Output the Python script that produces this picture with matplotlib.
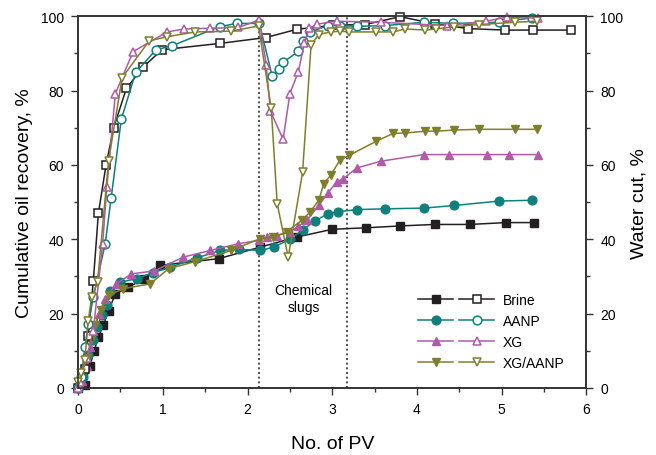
import matplotlib
matplotlib.use('Agg')
import matplotlib.pyplot as plt
from matplotlib.legend_handler import HandlerTuple
from matplotlib.lines import Line2D

plt.rcParams['font.family'] = ['Liberation Sans', 'DejaVu Sans']

# cumulative oil recovery (%) vs injected pore volumes
brine_pv = [0, 0.08, 0.14, 0.19, 0.24, 0.3, 0.36, 0.44, 0.59, 0.78, 0.97, 1.66, 2.15, 2.58, 3.0, 3.4, 3.8, 4.21, 4.62, 5.05, 5.38]
brine_rec = [0, 0.8, 6, 10, 13.7, 17, 20.8, 25.3, 27.1, 29.3, 33, 34.8, 37.9, 40.6, 42.7, 43.1, 43.6, 44, 44, 44.5, 44.5]

aanp_pv = [0, 0.06, 0.12, 0.18, 0.22, 0.28, 0.34, 0.38, 0.5, 0.69, 0.88, 1.09, 1.4, 1.68, 1.9, 2.15, 2.31, 2.5, 2.65, 2.8, 2.95, 3.07, 3.29, 3.62, 4.08, 4.44, 4.97, 5.36]
aanp_rec = [0, 3, 9, 13, 16.4, 19.5, 22.2, 26.2, 28.5, 29.4, 31, 32.5, 35, 37, 37.3, 37, 37.9, 40, 42.5, 45, 46.9, 47.4, 48, 48.2, 48.4, 49.1, 50.3, 50.5]

xg_pv = [0, 0.05, 0.1, 0.14, 0.18, 0.25, 0.32, 0.45, 0.63, 0.9, 1.24, 1.56, 1.89, 2.13, 2.23, 2.35, 2.5, 2.6, 2.7, 2.84, 2.95, 3.05, 3.13, 3.29, 3.57, 4.08, 4.38, 4.83, 5.08, 5.43]
xg_rec = [0, 2, 6, 11, 15.4, 20, 24, 28, 30.7, 31.5, 35.2, 37, 38.8, 39.7, 40.6, 41, 42, 43.5, 45.1, 49.1, 52.5, 55.4, 56.3, 59.2, 61, 62.8, 62.8, 62.8, 62.8, 62.8]

xga_pv = [0, 0.05, 0.1, 0.15, 0.2, 0.27, 0.36, 0.53, 0.85, 1.07, 1.38, 1.81, 2.15, 2.3, 2.46, 2.64, 2.74, 2.84, 2.9, 2.98, 3.09, 3.2, 3.52, 3.72, 3.86, 4.1, 4.23, 4.44, 4.73, 5.16, 5.42]
xga_rec = [0, 3, 8, 13, 17, 21, 24.9, 26.7, 28, 32.1, 34, 37, 40.2, 40.5, 42, 45.1, 47.4, 50.5, 55, 57.2, 61.3, 62.6, 66.4, 68.5, 68.6, 69.1, 69.1, 69.4, 69.6, 69.6, 69.6]

# water cut (%)
brine_wc_pv = [0, 0.08, 0.12, 0.18, 0.24, 0.33, 0.42, 0.57, 0.77, 0.99, 1.67, 2.22, 2.58, 3.01, 3.39, 3.8, 4.21, 4.6, 5.04, 5.37, 5.82]
brine_wc = [0, 5, 14, 28.8, 47, 60, 70, 80.6, 86.4, 91, 92.7, 94.3, 96.5, 97.6, 97.8, 99.9, 98, 96.7, 96.3, 96.3, 96.3]

aanp_wc_pv = [0, 0.04, 0.08, 0.12, 0.18, 0.32, 0.39, 0.51, 0.68, 0.92, 1.11, 1.67, 1.87, 2.14, 2.29, 2.37, 2.42, 2.6, 2.65, 2.74, 2.95, 3.09, 3.29, 3.62, 4.08, 4.43, 4.97, 5.36]
aanp_wc = [0, 3, 11, 17.2, 24.4, 38.8, 51, 72.3, 84.9, 91, 92.1, 97.2, 98.1, 98.1, 84, 85.8, 87.6, 90.6, 93.3, 95.8, 97.5, 97.5, 97.3, 97.5, 98.4, 98.1, 98.4, 99.6]

xg_wc_pv = [0, 0.02, 0.1, 0.18, 0.29, 0.34, 0.44, 0.65, 1.05, 1.25, 1.56, 1.89, 2.14, 2.22, 2.27, 2.42, 2.5, 2.6, 2.67, 2.73, 2.82, 3.05, 3.58, 4.35, 4.82, 5.06, 5.43]
xg_wc = [0, 1.6, 8, 15.4, 38.8, 54.1, 79.2, 90.5, 95.8, 96.6, 96.8, 97, 99, 86.9, 74.5, 66.9, 79.2, 85.1, 92.7, 96.8, 97.9, 98.7, 98.4, 97.5, 98.7, 99.8, 99.5]

xga_wc_pv = [0, 0.04, 0.08, 0.12, 0.16, 0.23, 0.36, 0.52, 0.84, 1.05, 1.38, 1.8, 2.13, 2.28, 2.35, 2.48, 2.65, 2.75, 2.84, 2.98, 3.09, 3.2, 3.52, 3.72, 3.86, 4.1, 4.23, 4.44, 4.73, 5.16, 5.42]
xga_wc = [1.5, 4, 7.4, 18.1, 24.4, 28.5, 61.1, 83.5, 93.4, 94.5, 95.8, 96, 97.4, 75.2, 49.6, 35.2, 58.1, 92.3, 95.1, 95.8, 96, 95.8, 95.8, 95.8, 96.6, 96.3, 96.6, 97.2, 97.8, 98.4, 98.7]

slug_start, slug_end = 2.13, 3.17

c_brine = '#231f20'
c_aanp = '#0f807b'
c_xg = '#b05aa9'
c_xga = '#7f7f2b'

fig = plt.figure(figsize=(6.56, 4.56), dpi=100)
ax = fig.add_axes([0.119, 0.147, 0.775, 0.815])
ax2 = ax.twinx()

ms = 6.3
lw = 1.1
series = [
    ('Brine', brine_pv, brine_rec, brine_wc_pv, brine_wc, c_brine, 's'),
    ('AANP', aanp_pv, aanp_rec, aanp_wc_pv, aanp_wc, c_aanp, 'o'),
    ('XG', xg_pv, xg_rec, xg_wc_pv, xg_wc, c_xg, '^'),
    ('XG/AANP', xga_pv, xga_rec, xga_wc_pv, xga_wc, c_xga, 'v'),
]

handles = []
labels = []
for name, px, rec, wpx, wc, col, mk in series:
    ax.plot(px, rec, color=col, marker=mk, ms=ms, lw=lw, mfc=col, mec=col, clip_on=False)
    ax2.plot(wpx, wc, color=col, marker=mk, ms=ms, lw=lw, mfc='white', mec=col, mew=1.1, clip_on=False)
    hf = Line2D([], [], color=col, marker=mk, ms=ms, lw=lw, mfc=col, mec=col)
    ho = Line2D([], [], color=col, marker=mk, ms=ms, lw=lw, mfc='white', mec=col, mew=1.1)
    handles.append((hf, ho))
    labels.append(name)

for xv in (slug_start, slug_end):
    ax.axvline(xv, color='#333333', ls=(0, (1.2, 1.6)), lw=1.2, zorder=0)
ax.text(2.66, 24, 'Chemical\nslugs', ha='center', va='center', fontsize=10, linespacing=1.3)

ax.set_xlim(0, 6)
ax.set_ylim(0, 100)
ax2.set_ylim(0, 100)
ax.set_xticks(range(0, 7))
ax.set_xticks([0.5 + i for i in range(6)], minor=True)
ax.set_yticks(range(0, 101, 20))
ax.set_yticks(range(10, 100, 20), minor=True)
ax2.set_yticks(range(0, 101, 20))
ax2.set_yticks(range(10, 100, 20), minor=True)

for a in (ax, ax2):
    a.tick_params(which='both', direction='out', labelsize=10, color='#333333', width=1, pad=5)
    a.tick_params(which='major', length=5)
    a.tick_params(which='minor', length=3)
    for s in a.spines.values():
        s.set_color('#333333')
        s.set_linewidth(1.2)

ax.set_xlabel('No. of PV', fontsize=14, labelpad=14)
ax.set_ylabel('Cumulative oil recovery, %', fontsize=14, labelpad=6)
ax2.set_ylabel('Water cut, %', fontsize=14, labelpad=5)

ax2.legend(handles, labels, handler_map={tuple: HandlerTuple(ndivide=None, pad=0.4)},
           loc='lower left', bbox_to_anchor=(0.655, 0.03), frameon=False,
           fontsize=10, handlelength=5.5, handletextpad=0.6, labelspacing=0.5,
           borderpad=0)

fig.savefig('out.png', dpi=100)
